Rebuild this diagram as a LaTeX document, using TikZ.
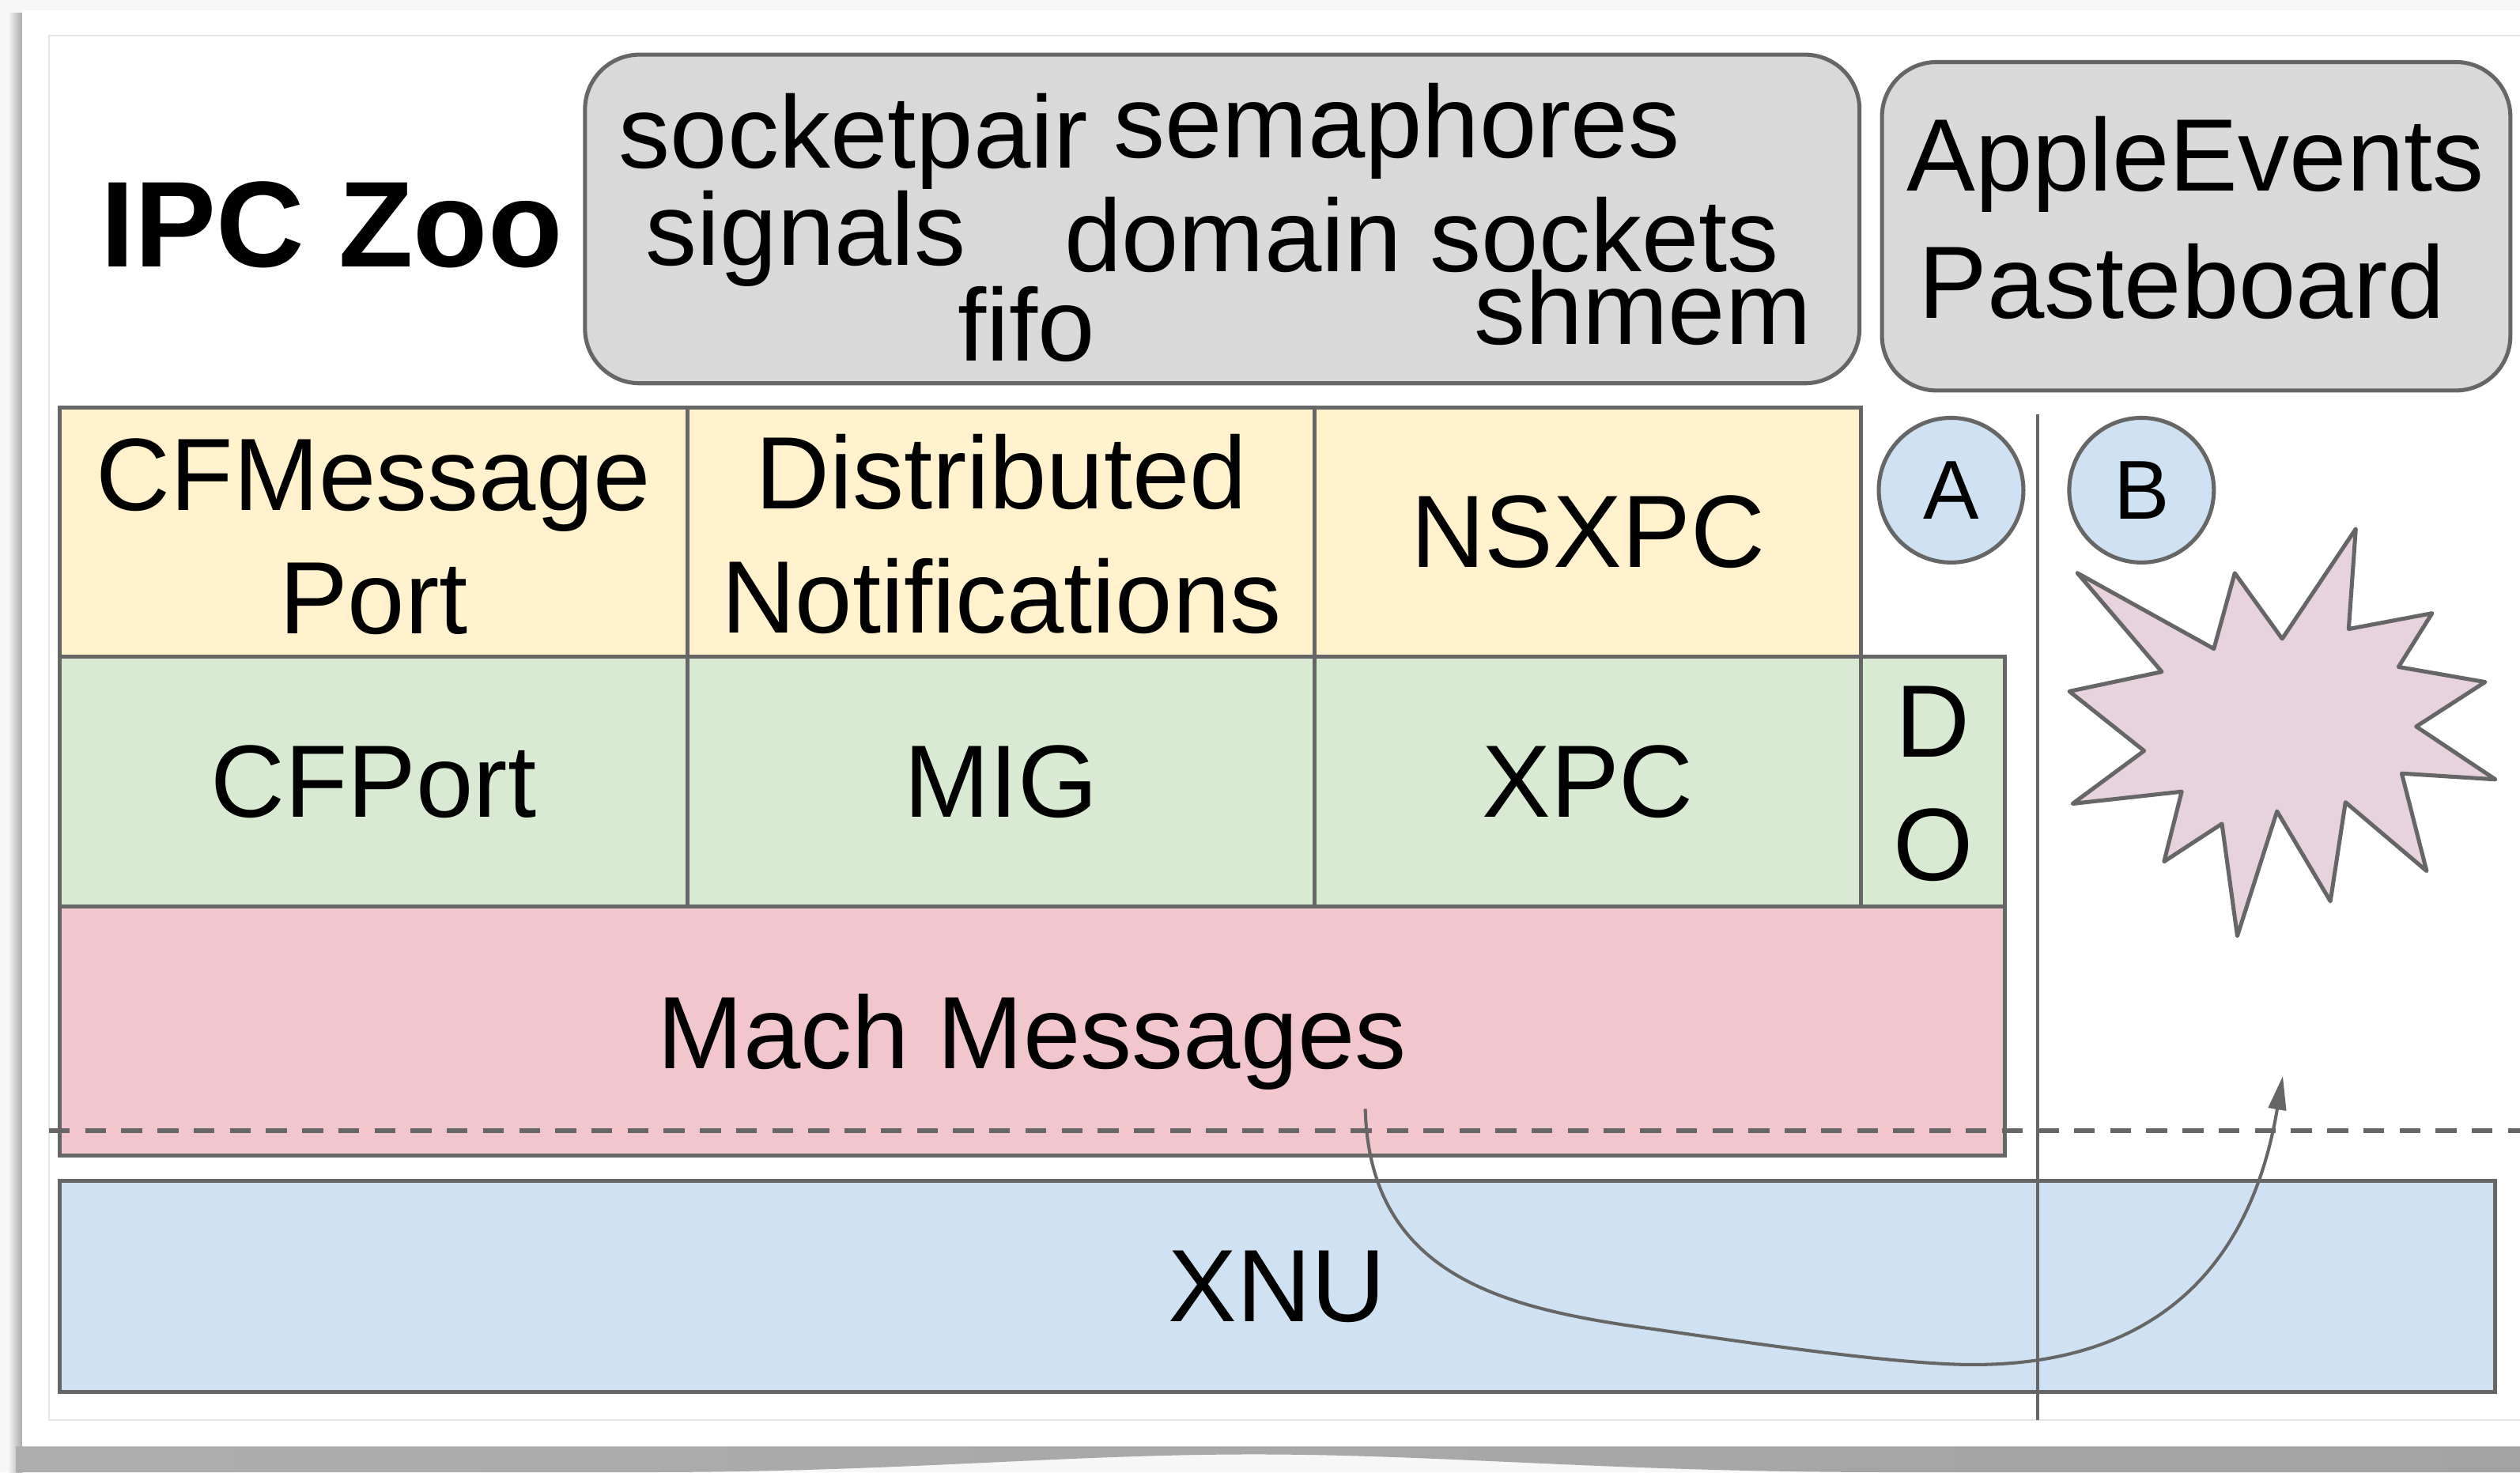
\documentclass[tikz,border=0pt]{standalone}
\usepackage{fontspec}
\setmainfont{Liberation Sans}
\usetikzlibrary{arrows.meta}

\definecolor{edge}{HTML}{666666}
\definecolor{paper}{HTML}{F7F7F7}
\definecolor{faint}{HTML}{E6E6E6}
\definecolor{yel}{HTML}{FFF2CC}
\definecolor{grn}{HTML}{D9EAD3}
\definecolor{rose}{HTML}{F1C6CD}
\definecolor{sky}{HTML}{CFE2F3}
\definecolor{stone}{HTML}{D9D9D9}
\definecolor{burst}{HTML}{E8D2DD}

\begin{document}
\begin{tikzpicture}[x=1pt, y=-1pt,
  cell/.style={draw=edge, line width=2.5pt, rectangle, inner sep=0pt, outer sep=0pt,
               anchor=north west, font=\fontsize{64}{77}\selectfont},
  pill/.style={cell, rounded corners=34pt, fill=stone},
  lbl/.style={anchor=base, inner sep=0pt, outer sep=0pt, font=\fontsize{64}{77}\selectfont},
  badge/.style={circle, draw=edge, line width=2.5pt, fill=sky, minimum size=90pt,
                inner sep=0pt, font=\fontsize{52}{62}\selectfont},
  divider/.style={draw=edge, line width=2.1pt},
  boundary/.style={draw=edge, line width=2.6pt, dash pattern=on 13pt off 9.5pt},
  flow/.style={draw=edge, line width=2pt, -{Triangle[length=21pt,width=11pt]}}
]
\useasboundingbox (0,0) rectangle (1568,916.1);

% page, card and its shadow
\fill[paper] (0,0) rectangle (1568,916.1);
\shade[left color=paper, right color=black!34] (5,8) rectangle (14,916.1);
\shade[left color=black!32, middle color=black!50, right color=black!36]
  (10,900) -- (1568,900) -- (1568,916.1) -- (1180,916.1)
  .. controls (1000,916.1) and (900,905) .. (780,905)
  .. controls (660,905) and (560,916.1) .. (400,916.1) -- (10,916.1) -- cycle;
\fill[white] (14,6.5) rectangle (1568,900);
\draw[faint, line width=1pt] (1568,22.2) -- (30.5,22.2) -- (30.5,883.5) -- (1568,883.5);

% title
\node[lbl, font=\fontsize{76}{91}\selectfont\bfseries] (title) at (206.5,166) {IPC Zoo};

% BSD mechanisms
\node[pill, minimum width=793pt, minimum height=204.5pt] (posix) at (364,34) {};
\node[lbl] (sockpair) at (531,104.6) {socketpair};
\node[lbl] (sema) at (869,98) {semaphores};
\node[lbl] (sig) at (501.5,165.3) {signals};
\node[lbl] (dsock) at (884.7,169) {domain sockets};
\node[lbl] (fifo) at (638.5,224.4) {fifo};
\node[lbl] (shm) at (1022,214.5) {shmem};

% higher level mechanisms
\node[pill, minimum width=391pt, minimum height=204.4pt] (apple) at (1171,38.6) {};
\node[lbl] (aevt) at (1366,119) {AppleEvents};
\node[lbl] (pboard) at (1357.5,198) {Pasteboard};

% framework layer
\node[cell, fill=yel, minimum width=390.8pt, minimum height=155.2pt] (cfmp) at (37,253.5) {};
\node[cell, fill=yel, minimum width=390.2pt, minimum height=155.2pt] (distn) at (427.8,253.5) {};
\node[cell, fill=yel, minimum width=340pt, minimum height=155.2pt] (nsxpc) at (818,253.5) {NSXPC};
\node[lbl] (cfmpA) at (232.4,317.5) {CFMessage};
\node[lbl] (cfmpB) at (232.4,394.5) {Port};
\node[lbl] (distA) at (623,316.5) {Distributed};
\node[lbl] (distB) at (623,394) {Notifications};

% mid layer
\node[cell, fill=grn, minimum width=390.8pt, minimum height=155.5pt] (cfport) at (37,408.7) {CFPort};
\node[cell, fill=grn, minimum width=390.2pt, minimum height=155.5pt] (mig) at (427.8,408.7) {MIG};
\node[cell, fill=grn, minimum width=340pt, minimum height=155.5pt] (xpc) at (818,408.7) {XPC};
\node[cell, fill=grn, minimum width=89.5pt, minimum height=155.5pt] (dobj) at (1158,408.7) {};
\node[lbl] (doD) at (1202.8,471) {D};
\node[lbl] (doO) at (1202.8,548) {O};

% Mach layer and kernel
\node[cell, fill=rose, minimum width=1210.5pt, minimum height=154.8pt, text depth=0pt] (mach) at (37,564.2) {Mach Messages};
\node[cell, fill=sky, minimum width=1515.3pt, minimum height=131pt] (xnu) at (37,735) {XNU};

% process badges
\node[badge] (pa) at (1214,305) {A};
\node[badge] (pb) at (1332.5,305) {B};

% crash burst
\draw[draw=edge, fill=burst, line width=2.5pt, line join=round]
  (1292.6,356.6) -- (1377.5,403.7) -- (1390.5,356.6) -- (1420.0,397.5)
  -- (1465.8,329.1) -- (1461.4,391.4) -- (1513.3,381.6) -- (1492.4,415.0)
  -- (1546.3,424.4) -- (1503.4,452.1) -- (1552.7,485.0) -- (1494.4,481.3)
  -- (1509.9,542.0) -- (1459.4,499.2) -- (1450.0,560.8) -- (1416.8,504.8)
  -- (1392.1,582.4) -- (1382.5,512.6) -- (1346.5,536.1) -- (1357.5,492.6)
  -- (1289.6,500.1) -- (1334.1,467.2) -- (1287.6,430.2) -- (1345.1,418.0) -- cycle;

% user/kernel boundary and process separator
\coordinate (bndL) at (30.5,703.6);
\coordinate (bndR) at (1568,703.6);
\draw[boundary] (bndL) -- (bndR);
\coordinate (sepT) at (1268,258);
\coordinate (sepB) at (1268,883.5);
\draw[divider] (sepT) -- (sepB);

% message path through the kernel
\coordinate (flowS) at (849.5,690);
\coordinate (flowM1) at (1011,824.5);
\coordinate (flowM2) at (1215,848.9);
\coordinate (flowE) at (1420.4,669.6);
\draw[flow] (flowS) .. controls (852,790) and (930,812) .. (flowM1)
  .. controls (1080,834.3) and (1160,846.5) .. (flowM2)
  .. controls (1320,853) and (1397,808) .. (flowE);
\end{tikzpicture}
\end{document}
